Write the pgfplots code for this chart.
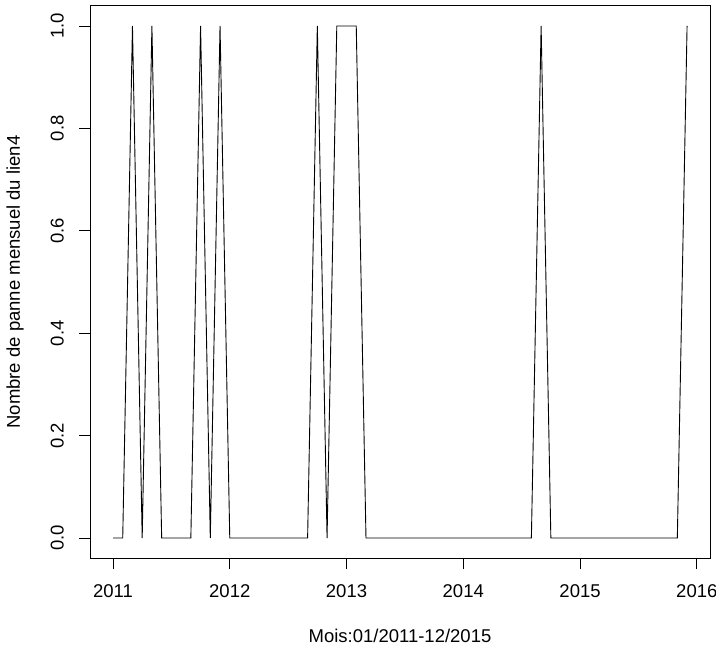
\documentclass[border=0pt]{standalone}
\usepackage{fontspec}
\setmainfont{Liberation Sans}
\usepackage{pgfplots}
\pgfplotsset{compat=1.18}
\begin{document}
\begin{tikzpicture}[x=1pt,y=1pt]
\path[use as bounding box] (-90,-93.5) rectangle (626,558.5);
\begin{axis}[
  at={(0,0)}, anchor=south west,
  scale only axis, width=620pt, height=553pt,
  xmin=2010.803, xmax=2016.113, ymin=-0.04, ymax=1.04,
  axis line style={line width=0.8pt},
  xtick={2011,2012,2013,2014,2015,2016},
  ytick={0,0.2,0.4,0.6,0.8,1.0},
  xticklabels={2011,2012,2013,2014,2015,2016},
  yticklabels={0.0,0.2,0.4,0.6,0.8,1.0},
  tick align=outside, major tick length=11pt,
  tick style={line width=0.8pt, black},
  xtick pos=bottom, ytick pos=left,
  font=\fontsize{18.5}{22}\selectfont,
  tick label style={font=\fontsize{18.5}{22}\selectfont},
  xticklabel style={anchor=north, inner sep=0pt, yshift=-15pt},
  yticklabel style={rotate=90, anchor=south, inner sep=0pt, yshift=15pt},
  xlabel={Mois:01/2011-12/2015},
  ylabel={Nombre de panne mensuel du lien4},
  xlabel style={at={(axis description cs:0.5,0)}, anchor=center, yshift=-77pt},
  ylabel style={at={(axis description cs:0,0.5)}, anchor=center, yshift=75pt},
]
\addplot[black, line width=0.9pt, mark=none] coordinates {
(2011.0000,0) (2011.0833,0) (2011.1667,1) (2011.2500,0) (2011.3333,1) (2011.4167,0)
(2011.5000,0) (2011.5833,0) (2011.6667,0) (2011.7500,1) (2011.8333,0) (2011.9167,1)
(2012.0000,0) (2012.0833,0) (2012.1667,0) (2012.2500,0) (2012.3333,0) (2012.4167,0)
(2012.5000,0) (2012.5833,0) (2012.6667,0) (2012.7500,1) (2012.8333,0) (2012.9167,1)
(2013.0000,1) (2013.0833,1) (2013.1667,0) (2013.2500,0) (2013.3333,0) (2013.4167,0)
(2013.5000,0) (2013.5833,0) (2013.6667,0) (2013.7500,0) (2013.8333,0) (2013.9167,0)
(2014.0000,0) (2014.0833,0) (2014.1667,0) (2014.2500,0) (2014.3333,0) (2014.4167,0)
(2014.5000,0) (2014.5833,0) (2014.6667,1) (2014.7500,0) (2014.8333,0) (2014.9167,0)
(2015.0000,0) (2015.0833,0) (2015.1667,0) (2015.2500,0) (2015.3333,0) (2015.4167,0)
(2015.5000,0) (2015.5833,0) (2015.6667,0) (2015.7500,0) (2015.8333,0) (2015.9167,1)
};
\end{axis}
\end{tikzpicture}
\end{document}
